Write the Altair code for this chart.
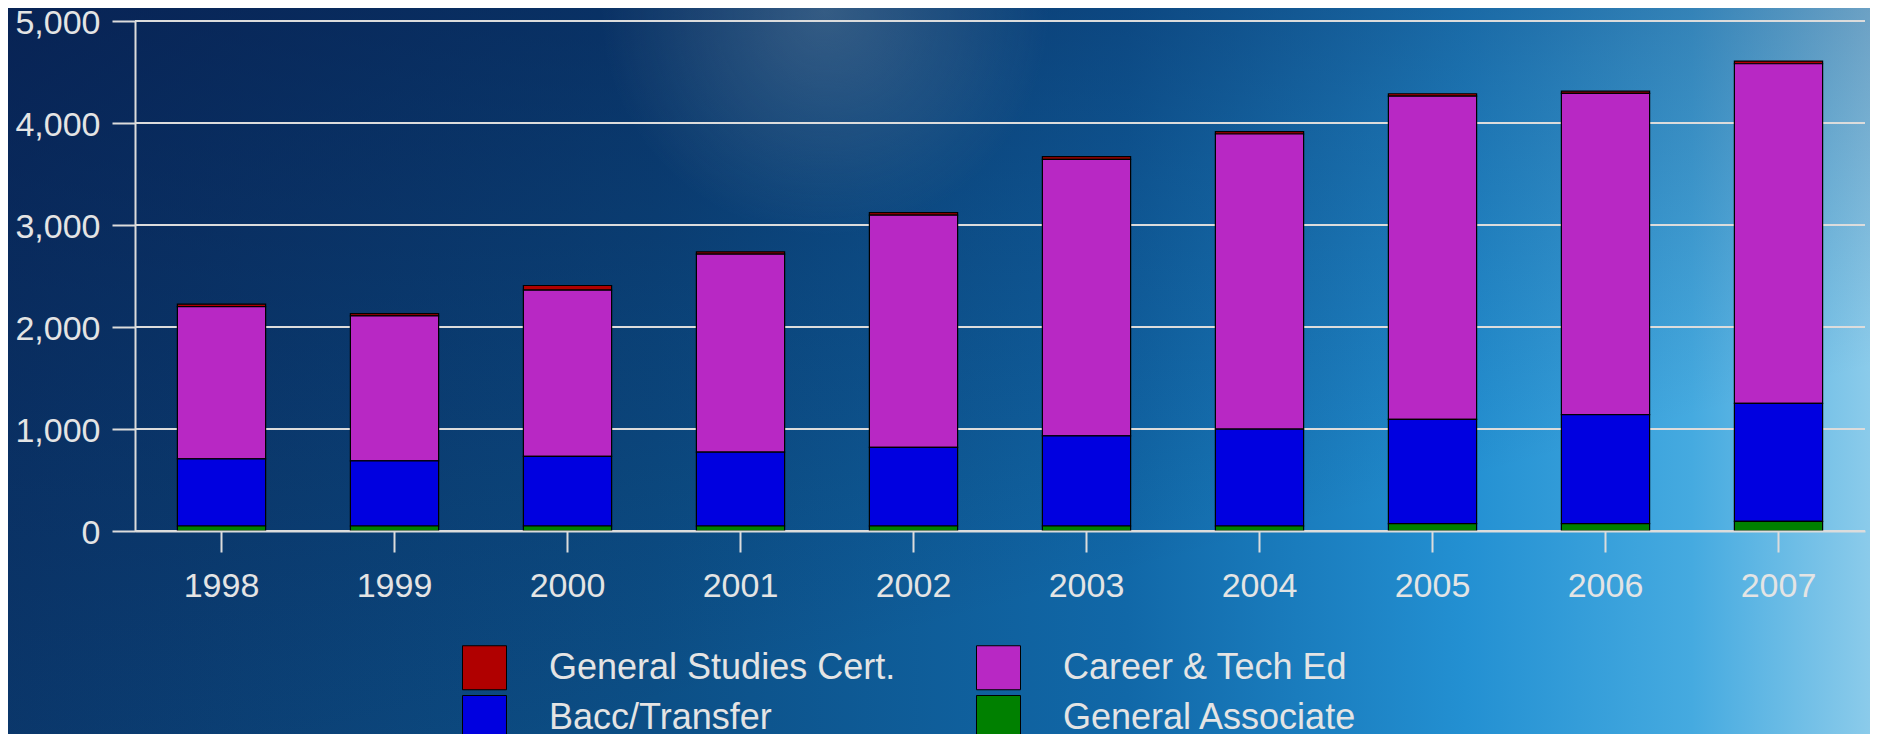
import altair as alt
import pandas as pd

# ---- data ----
years = ["1998", "1999", "2000", "2001", "2002", "2003", "2004", "2005", "2006", "2007"]
general_associate = [49, 49, 49, 49, 49, 49, 49, 72, 72, 95]
bacc_transfer = [658, 639, 682, 724, 770, 884, 949, 1022, 1068, 1157]
career_tech_ed = [1493, 1421, 1630, 1941, 2277, 2711, 2894, 3169, 3150, 3329]
general_studies_cert = [24, 23, 46, 23, 25, 26, 23, 24, 22, 26]

series_names = ["General Studies Cert.", "Career & Tech Ed", "Bacc/Transfer", "General Associate"]
series_colors = ["#B00000", "#B828C4", "#0000E0", "#008000"]
stack_rank = [3, 2, 1, 0]  # bottom -> top order
y_ticks = [0, 1000, 2000, 3000, 4000, 5000]

series_values = [general_studies_cert, career_tech_ed, bacc_transfer, general_associate]
rows = []
for name, rank, vals in zip(series_names, stack_rank, series_values):
    for yr, v in zip(years, vals):
        rows.append({"Year": yr, "Series": name, "Value": v, "Rank": rank})
df = pd.DataFrame(rows)

W, H = 1730, 510
PAD = {"left": 127, "top": 13, "right": 5, "bottom": 203}

one = pd.DataFrame({"k": [0]})

full_box = dict(
    x=alt.value(-PAD["left"] - 10), x2=alt.value(W + PAD["right"] + 10),
    y=alt.value(-PAD["top"] - 10), y2=alt.value(H + PAD["bottom"] + 10),
)

# background gradient covering the whole canvas
bg = alt.Chart(one).mark_rect(
    color=alt.LinearGradient(
        gradient="linear",
        stops=[
            alt.GradientStop(offset=0.0, color="#0b3a6e"),
            alt.GradientStop(offset=0.35, color="#0c4f86"),
            alt.GradientStop(offset=0.6, color="#1168a8"),
            alt.GradientStop(offset=0.78, color="#2390d2"),
            alt.GradientStop(offset=0.9, color="#45aae0"),
            alt.GradientStop(offset=1.0, color="#8fcdeb"),
        ],
        x1=0, x2=1, y1=0, y2=0,
    )
).encode(**full_box)

shade = alt.Chart(one).mark_rect(
    color=alt.LinearGradient(
        gradient="linear",
        stops=[
            alt.GradientStop(offset=0.0, color="rgba(6,22,70,0.65)"),
            alt.GradientStop(offset=0.45, color="rgba(6,22,70,0.25)"),
            alt.GradientStop(offset=0.8, color="rgba(6,22,70,0)"),
        ],
        x1=0, x2=0.7, y1=0, y2=1,
    )
).encode(**full_box)

spot = alt.Chart(one).mark_rect(
    color=alt.RadialGradient(
        gradient="radial",
        stops=[
            alt.GradientStop(offset=0.0, color="rgba(150,170,180,0.30)"),
            alt.GradientStop(offset=0.35, color="rgba(150,170,180,0.15)"),
            alt.GradientStop(offset=0.7, color="rgba(150,170,180,0)"),
            alt.GradientStop(offset=1.0, color="rgba(150,170,180,0)"),
        ],
        x1=0.5, y1=0.5, x2=0.5, y2=0.5, r1=0, r2=0.5,
    )
).encode(
    x=alt.value(370), x2=alt.value(1010),
    y=alt.value(-330), y2=alt.value(310),
)

y_scale = alt.Scale(domain=[0, 5000], nice=False)
y_axis = alt.Axis(
    title=None, values=y_ticks, format=",.0f", labelFontSize=34,
    labelColor="#e4e4e4", labelFont="Liberation Sans", labelPadding=12,
    labelOffset=2, tickSize=23, tickWidth=2, tickColor="#dcdcdc",
    domainColor="#dcdcdc", domainWidth=2, grid=False, zindex=1,
)

grid = alt.Chart(pd.DataFrame({"t": y_ticks})).mark_rule(
    color="#dcdcdc", strokeWidth=2
).encode(
    y=alt.Y("t:Q", scale=y_scale, axis=y_axis),
    x=alt.value(0), x2=alt.value(W),
)

bars = alt.Chart(df).mark_bar(stroke="#000000", strokeWidth=1.2, opacity=1).encode(
    x=alt.X(
        "Year:N", sort=years,
        scale=alt.Scale(paddingInner=0.49, paddingOuter=0.245),
        axis=alt.Axis(
            title=None, labelAngle=0, labelFontSize=34, labelColor="#e4e4e4",
            labelFont="Liberation Sans", labelPadding=17, tickSize=21, tickWidth=2,
            tickColor="#dcdcdc", domainColor="#dcdcdc", domainWidth=2, grid=False,
            zindex=1,
        ),
    ),
    y=alt.Y("sum(Value):Q", stack="zero", scale=y_scale, axis=y_axis),
    color=alt.Color(
        "Series:N",
        scale=alt.Scale(domain=series_names, range=series_colors),
        legend=alt.Legend(
            title=None, orient="none", legendX=327, legendY=624, columns=2,
            direction="horizontal",
            symbolType="square", symbolSize=1936, symbolStrokeColor="#000000",
            symbolStrokeWidth=1, symbolOpacity=1, labelFontSize=36,
            labelFont="Liberation Sans", labelColor="#e4e4e4", labelOffset=42,
            columnPadding=78, rowPadding=1, labelLimit=600, padding=0,
        ),
    ),
    order=alt.Order("Rank:Q", sort="ascending"),
)

chart = alt.layer(bg, shade, spot, grid, bars).properties(
    width=W, height=H, padding=PAD,
    autosize=alt.AutoSizeParams(type="none"),
    background="#0b3a6e",
).configure_view(stroke=None)

chart.save("out.html", embed_options={"renderer": "svg", "actions": False})
